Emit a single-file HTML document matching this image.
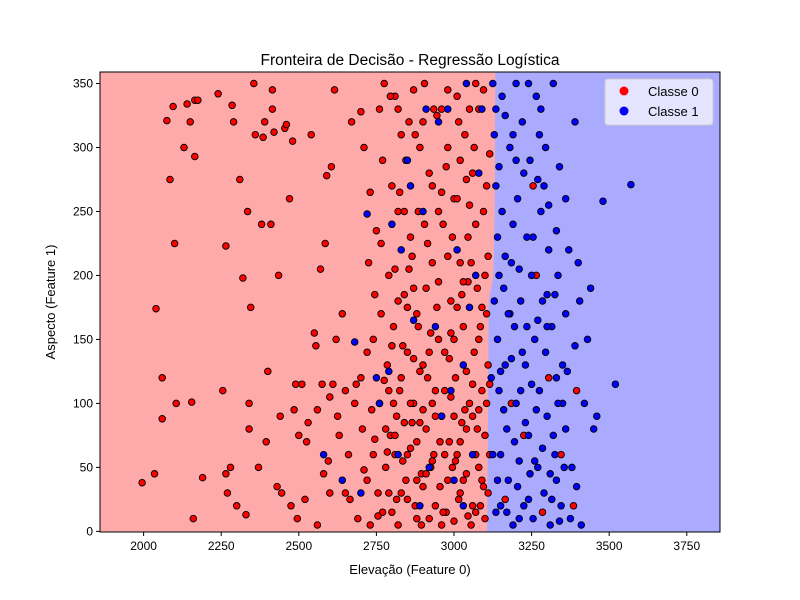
<!DOCTYPE html>
<html><head><meta charset="utf-8">
<style>
body{margin:0;background:#fff;}
svg{display:block;font-family:"Liberation Sans","DejaVu Sans",sans-serif;}
</style></head>
<body>
<svg id="chart" width="800" height="600" viewBox="0 0 800 600">
<rect width="800" height="600" fill="#fff"/>
<text x="410" y="65" text-anchor="middle" font-size="15.5">Fronteira de Decisão - Regressão Logística</text>
<g id="plot"></g>
<text x="410" y="574" text-anchor="middle" font-size="13">Elevação (Feature 0)</text>
<text transform="translate(55,302) rotate(-90)" text-anchor="middle" font-size="13">Aspecto (Feature 1)</text>
<g>
<rect x="605" y="79" width="108" height="46" rx="3" fill="#eef" fill-opacity="0.85" stroke="#ccc"/>
<circle cx="624" cy="91" r="4.5" fill="#f00"/>
<text x="648" y="96" font-size="13">Classe 0</text>
<circle cx="624" cy="111" r="4.5" fill="#00f"/>
<text x="648" y="116" font-size="13">Classe 1</text>
</g>
</svg>
<script>
const xTicks=[2000,2250,2500,2750,3000,3250,3500,3750];
const yTicks=[0,50,100,150,200,250,300,350];
const boundary=[[3133,360],[3131,250],[3127,200],[3112,180],[3110,100],[3107,0]];
const class0=[[1995,38],[2035,45],[2040,174],[2060,120],[2060,88],[2075,321],[2085,275],[2095,332],[2100,225],[2105,100],[2130,300],[2140,334],[2150,320],[2155,101],[2160,10],[2165,293],[2165,337],[2175,337],[2190,42],[2240,342],[2255,110],[2265,45],[2265,223],[2270,30],[2280,50],[2285,333],[2290,320],[2300,20],[2310,275],[2320,198],[2330,13],[2335,250],[2340,80],[2340,100],[2345,175],[2355,350],[2360,310],[2370,50],[2380,240],[2385,308],[2390,320],[2395,70],[2400,125],[2410,240],[2415,330],[2415,345],[2420,312],[2430,35],[2435,200],[2440,90],[2445,30],[2455,315],[2460,318],[2470,260],[2475,20],[2480,305],[2485,95],[2490,115],[2495,10],[2500,75],[2510,115],[2520,25],[2525,70],[2530,85],[2540,310],[2550,155],[2555,145],[2560,5],[2570,205],[2575,115],[2580,45],[2585,225],[2590,278],[2595,55],[2600,105],[2605,285],[2610,115],[2615,345],[2620,150],[2625,90],[2630,75],[2640,170],[2650,30],[2660,60],[2665,25],[2670,320],[2680,100],[2685,115],[2690,10],[2700,328],[2705,80],[2710,48],[2720,140],[2725,210],[2730,5],[2740,60],[2745,185],[2750,235],[2755,30],[2760,100],[2765,170],[2770,290],[2775,350],[2780,50],[2785,130],[2790,200],[2795,75],[2800,15],[2805,160],[2810,340],[2815,90],[2820,250],[2825,110],[2830,30],[2835,55],[2840,185],[2845,290],[2850,140],[2855,320],[2860,65],[2865,215],[2870,100],[2875,20],[2880,170],[2885,250],[2890,300],[2895,45],[2900,130],[2905,350],[2910,80],[2915,225],[2920,10],[2925,155],[2930,270],[2935,60],[2940,110],[2945,325],[2950,195],[2955,35],[2960,90],[2965,240],[2970,140],[2975,15],[2980,300],[2985,70],[2990,180],[2995,50],[3000,260],[3005,120],[3010,340],[3015,25],[3020,210],[3025,85],[3030,160],[3035,310],[3040,45],[3045,230],[3050,100],[3055,5],[3060,280],[3065,140],[3070,60],[3075,190],[3080,330],[3085,20],[3090,110],[3095,250],[3100,75],[3105,170],[3110,30],[3115,295],
[2700,120],[2720,40],[2735,95],[2760,330],[2770,15],[2790,110],[2800,270],[2810,60],[2820,180],[2830,310],[2840,85],[2850,25],[2860,230],[2870,345],[2880,70],[2890,125],[2900,35],[2910,190],[2920,280],[2930,100],[2940,20],[2950,150],[2960,330],[2970,60],[2980,215],[2990,105],[3000,8],[3010,175],[3020,290],[3030,40],[3040,125],[3050,255],[3060,90],[3070,350],[3080,150],[3090,40],[3100,200],[3110,130],[3000,150],[2960,265],[2880,40],[2820,5],[2740,150],[2650,110],[2600,30],[2560,95],[2850,175],[2930,55],[3060,20],[3020,70],[2780,80],[2900,95],[3045,195],[2980,345],[2870,135],[2810,205],
[2710,300],[2730,265],[2745,72],[2755,12],[2765,225],[2775,118],[2785,62],[2795,340],[2805,100],[2815,25],[2825,265],[2835,145],[2845,40],[2855,205],[2865,85],[2875,310],[2885,160],[2895,5],[2905,240],[2915,120],[2925,50],[2935,330],[2945,175],[2955,70],[2965,15],[2975,285],[2985,135],[2995,230],[3005,55],[3015,320],[3025,185],[3035,95],[3045,12],[3055,210],[3065,300],[3075,80],[3085,160],[3095,35],[3105,270],[3115,115],
[2790,30],[2800,145],[2810,75],[2820,330],[2830,120],[2840,250],[2850,60],[2860,100],[2870,190],[2880,10],[2890,85],[2900,320],[2910,45],[2920,140],[2930,210],[2940,90],[2950,250],[2960,5],[2970,110],[2980,40],[2990,155],[3000,90],[3010,260],[3020,30],[3030,195],[3040,80],[3050,330],[3060,115],[3070,240],[3080,50],[3090,175],[3100,10],[3105,100],[3115,60],[3110,215],[3095,345],[3080,95],[3070,15],[3040,275],[3010,60],
[3165,25],[3185,100],[3225,75],[3265,200],[3305,120],[3345,60],[3385,20],[3395,110],[3255,270],[3285,15]];
const class1=[[2580,60],[2640,40],[2680,148],[2720,248],[2750,120],[2760,100],[2800,240],[2830,220],[2850,290],[2870,165],[2900,250],[2920,50],[2950,320],[2980,330],[3000,40],[3050,175],[2960,90],[3030,130],[3080,280],[3060,60],[2890,20],[3010,220],[3090,330],[3040,350],
[3125,350],[3130,310],[3135,270],[3140,230],[3140,150],[3145,110],[3150,60],[3150,20],[3155,340],[3160,190],[3165,130],[3170,80],[3175,40],[3180,300],[3185,210],[3190,5],[3195,160],[3200,350],[3200,100],[3205,260],[3210,55],[3215,180],[3220,320],[3225,20],[3230,130],[3235,230],[3240,75],[3245,290],[3250,200],[3255,10],[3260,150],[3265,340],[3270,50],[3275,110],[3280,250],[3285,180],[3290,30],[3295,300],[3300,90],[3305,220],[3310,5],[3315,160],[3320,350],[3325,60],[3330,120],[3335,200],[3340,285],[3345,20],[3350,100],[3360,170],[3370,220],[3380,50],[3390,145],[3400,210],[3410,5],[3420,100],[3440,190],[3450,80],[3480,258],[3520,115],[3570,271],[3460,90],[3430,150],[3390,320],[3360,260],[3140,40],[3160,95],[3180,170],[3200,290],[3220,140],[3240,25],[3260,55],[3280,330],[3300,185],[3320,75],[3340,8],[3145,200],[3165,325],[3190,240],[3210,10],[3230,85],[3250,115],[3270,165],[3290,270],[3310,45],[3330,235],[3350,130],[3120,120],[3125,60],[3130,180],[3135,15],
[3135,330],[3145,285],[3155,250],[3165,215],[3175,170],[3185,135],[3195,70],[3205,35],[3215,110],[3225,280],[3235,160],[3245,45],[3255,230],[3265,95],[3275,310],[3285,65],[3295,140],[3305,255],[3315,25],[3325,185],[3335,100],[3355,50],[3365,125],[3375,10],[3405,180],[3150,125],[3170,15],[3190,310],[3210,205],[3240,350],[3270,275],[3300,160],[3330,40],[3360,80],[3395,35],
[2790,125],[2820,60],[2860,270],[2910,330],[2990,110],[3030,20],[3070,200],[2700,30],[2940,160]];
const X0=100,X1=720,Y0=72,Y1=532,xmin=1859.5,xmax=3857,ymin=-0.5,ymax=359;
const sx=v=>X0+(v-xmin)/(xmax-xmin)*(X1-X0);
const sy=v=>Y1-(v-ymin)/(ymax-ymin)*(Y1-Y0);
const NS="http://www.w3.org/2000/svg";
const plot=document.getElementById('plot');
function mk(t,a,p){const e=document.createElementNS(NS,t);for(const k in a)e.setAttribute(k,a[k]);(p||plot).appendChild(e);return e;}
const bg=mk('rect',{x:X0,y:Y0,width:X1-X0,height:Y1-Y0,fill:'#aaaaff'});


let d='M'+X0+','+Y0;
boundary.forEach(p=>{d+=' L'+sx(p[0]).toFixed(1)+','+Math.max(Y0,Math.min(Y1,sy(p[1]))).toFixed(1);});
d+=' L'+X0+','+Y1+' Z';
const rr=mk('path',{d:d,fill:'#ffaaaa'});


function pts(arr,col,name){arr.forEach(p=>{const c=mk('circle',{cx:sx(p[0]).toFixed(1),cy:sy(p[1]).toFixed(1),r:3.3,fill:col,stroke:'#000','stroke-width':0.9});

});}
pts(class0,'#ff0000','point-classe-0');
pts(class1,'#0000ff','point-classe-1');
const fr=mk('rect',{x:X0,y:Y0,width:X1-X0,height:Y1-Y0,fill:'none',stroke:'#000','stroke-width':1});


xTicks.forEach(t=>{const x=sx(t);mk('line',{x1:x,x2:x,y1:Y1,y2:Y1+4,stroke:'#000'});
const tx=mk('text',{x:x,y:Y1+18,'text-anchor':'middle','font-size':12});tx.textContent=t;

});
yTicks.forEach(t=>{const y=sy(t);mk('line',{x1:X0-4,x2:X0,y1:y,y2:y,stroke:'#000'});
const tx=mk('text',{x:X0-7,y:y+4,'text-anchor':'end','font-size':12});tx.textContent=t;

});
</script>
</body></html>
